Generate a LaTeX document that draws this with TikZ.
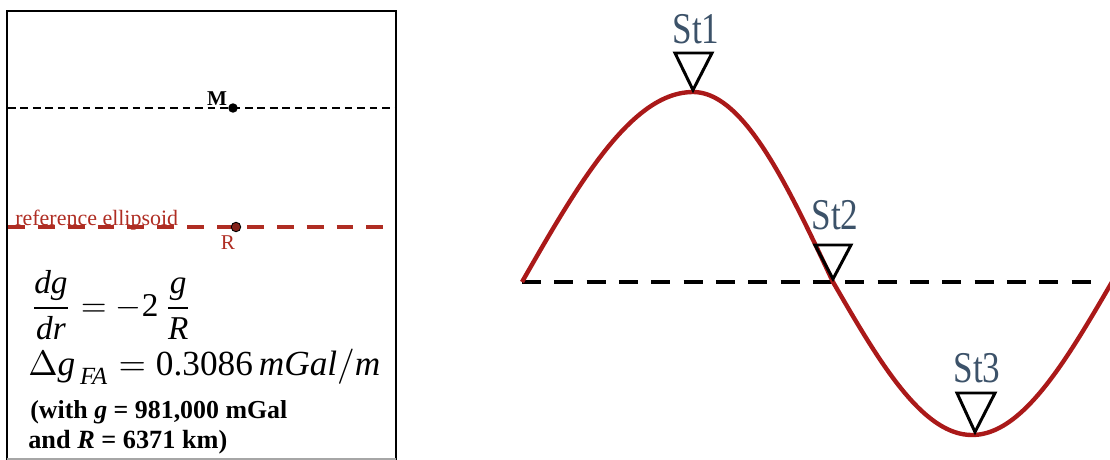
\documentclass[tikz,border=0pt]{standalone}
\usepackage{amsmath}
\usepackage{fontspec}
\setmainfont{Liberation Serif}
\usepackage{graphicx}
\definecolor{refred}{RGB}{175,45,35}
\definecolor{curvered}{RGB}{170,25,25}
\definecolor{stcol}{RGB}{60,82,105}
\begin{document}
\begin{tikzpicture}[x=0.02cm,y=-0.02cm,
  frame/.style={line width=1.2pt,black},
  mline/.style={line width=0.6pt,dash pattern=on 4.3pt off 2.8pt},
  rline/.style={line width=2.3pt,refred,dash pattern=on 9.6pt off 7.4pt},
  bline/.style={line width=2.8pt,black,dash pattern=on 10.8pt off 7.6pt},
  curve/.style={line width=2.5pt,curvered,line join=round},
  tri/.style={line width=1.7pt,black,line join=miter},
  stlab/.style={font=\fontsize{25}{27}\selectfont,text=stcol,xscale=0.8,inner sep=0pt},
  dot/.style={circle,inner sep=0pt,minimum size=5.4pt},
  eq/.style={anchor=base west,inner sep=0pt}]
\useasboundingbox (0,0) rectangle (1110,460);

% left panel frame
\draw[frame] (7,460) -- (7,11) -- (396,11) -- (396,460);
\draw[line width=0.6pt,black!35] (7,459) -- (396,459);

% M level
\draw[mline] (8,108) -- (395,108);
\node[dot,fill=black] (M) at (233,108) {};
\node[anchor=base,inner sep=0pt,font=\bfseries\fontsize{12}{14}\selectfont] (Mlab) at (217,105) {M};

% reference ellipsoid
\draw[rline] (8,227) -- (395,227);
\node[dot,fill=refred!75!black,draw=black,line width=0.5pt] (R) at (236,227) {};
\node[anchor=base west,inner sep=0pt,text=refred,font=\fontsize{12.5}{14}\selectfont] (ell) at (15,225) {reference ellipsoid};
\node[anchor=base,inner sep=0pt,text=refred,font=\fontsize{12}{14}\selectfont] (Rlab) at (228,249) {R};

% equations
\node[anchor=west,inner sep=0pt] (eq1) at (30,305) {\resizebox{3.24cm}{!}{$\displaystyle\frac{\textit{dg}}{\textit{dr}}=-\textup{2}\,\frac{\textit{g}}{\textit{R}}$}};
\node[eq] (eq2) at (28,375) {\resizebox{7.04cm}{!}{$\Delta\textit{g}_{\,\textit{FA}}=\textup{0.3086}\,\textit{mGal}/\textit{m}$}};
\node[eq] (eq3) at (30,418) {\resizebox{5.14cm}{!}{\bfseries (with \textit{g} = 981,000 mGal}};
\node[eq] (eq4) at (28,448) {\resizebox{3.98cm}{!}{\bfseries and \textit{R} = 6371 km)}};

% right panel
\coordinate (b0) at (522,282);
\coordinate (b1) at (1095,282);
\draw[bline] (b0) -- (b1);

\draw[curve] plot[domain=522:693,samples=50] (\x,{282-190*sin(90*(\x-522)/171)})
  -- plot[domain=693:833,samples=50] (\x,{282-190*cos(90*(\x-693)/140)})
  -- plot[domain=833:972,samples=50] (\x,{282+153*sin(90*(\x-833)/139)})
  -- plot[domain=972:1112,samples=50] (\x,{282+153*cos(90*(\x-972)/140)});

% stations
\draw[tri] (675,53) -- (712,53) -- (693,90) -- cycle;
\draw[tri] (815,245) -- (851,245) -- (833,279) -- cycle;
\draw[tri] (957,393) -- (995,393) -- (975,432) -- cycle;
\node[stlab] (st1) at (696,29) {St1};
\node[stlab] (st2) at (835,215) {St2};
\node[stlab] (st3) at (977,368) {St3};
\end{tikzpicture}
\end{document}
